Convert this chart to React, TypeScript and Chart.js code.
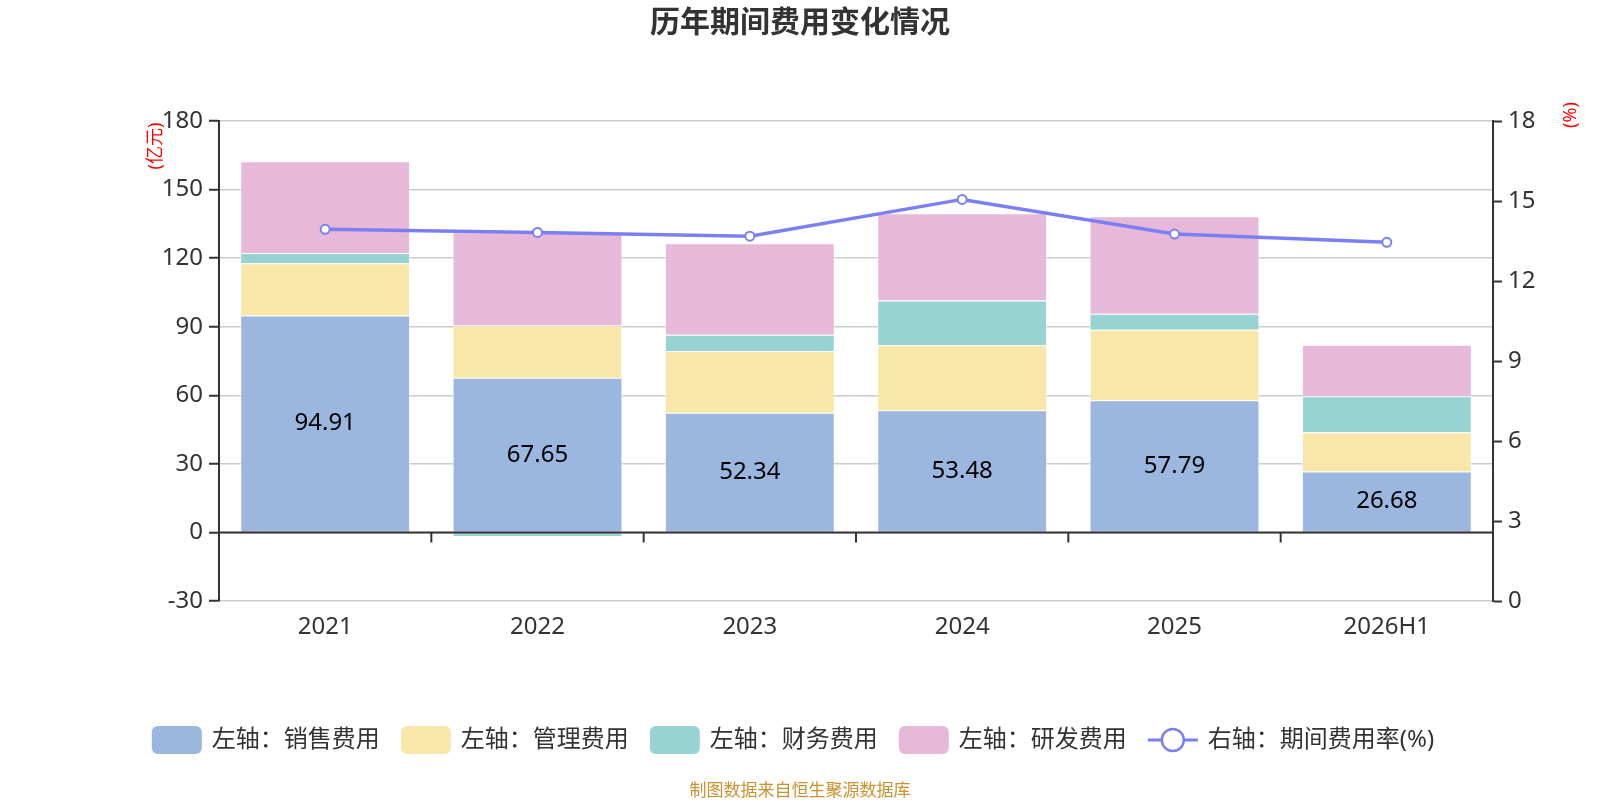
import React, { useEffect, useRef } from "react";
import { Chart, registerables } from "chart.js";

Chart.register(...registerables);

const years = ["2021", "2022", "2023", "2024", "2025", "2026H1"];
const salesExp = [94.91, 67.65, 52.34, 53.48, 57.79, 26.68];
const adminExp = [22.9, 22.9, 27.0, 28.5, 30.9, 17.2];
const financeExp = [4.4, -2.0, 7.1, 19.5, 7.0, 15.7];
const rdExp = [40.2, 40.8, 40.1, 38.2, 42.6, 22.5];
const expenseRate = [13.94, 13.82, 13.68, 15.06, 13.76, 13.45];
const leftTicks = [-30, 0, 30, 60, 90, 120, 150, 180];
const rightTicks = [0, 3, 6, 9, 12, 15, 18];
const seriesNames = ["左轴：销售费用", "左轴：管理费用", "左轴：财务费用", "左轴：研发费用", "右轴：期间费用率(%)"];

const FONT = '"Noto Sans", "Noto Sans CJK SC", sans-serif';
const COLORS = ["#9BB7E0", "#F8E7A9", "#97D3D3", "#E7B8D8", "#7B7FF5"];

const decorPlugin = {
	id: "decor",
	afterDatasetsDraw(chart: any) {
		const { ctx, chartArea, scales } = chart;
		const y0 = scales.y.getPixelForValue(0);
		ctx.save();
		// x axis line at zero with category boundary ticks
		ctx.strokeStyle = "#333";
		ctx.lineWidth = 2;
		ctx.beginPath();
		ctx.moveTo(chartArea.left, y0);
		ctx.lineTo(chartArea.right, y0);
		for (let i = 1; i < years.length; i++) {
			const bx = (scales.x.getPixelForValue(i - 1) + scales.x.getPixelForValue(i)) / 2;
			ctx.moveTo(bx, y0);
			ctx.lineTo(bx, y0 + 10);
		}
		ctx.stroke();

		// values inside the sales bars
		const meta = chart.getDatasetMeta(0);
		ctx.fillStyle = "#000";
		ctx.font = `24px ${FONT}`;
		ctx.textAlign = "center";
		ctx.textBaseline = "middle";
		meta.data.forEach((bar: any, i: number) => {
			ctx.fillText(salesExp[i].toFixed(2), bar.x, (bar.y + bar.base) / 2);
		});
		ctx.restore();
	},
	afterDraw(chart: any) {
		const { ctx } = chart;
		ctx.save();
		// title
		ctx.fillStyle = "#333";
		ctx.font = `bold 30px ${FONT}`;
		ctx.textAlign = "center";
		ctx.textBaseline = "middle";
		ctx.fillText("历年期间费用变化情况", 800, 23);

		// axis units
		ctx.fillStyle = "#ff0000";
		ctx.font = `18px ${FONT}`;
		ctx.save();
		ctx.translate(156, 146);
		ctx.rotate(-Math.PI / 2);
		ctx.fillText("(亿元)", 0, 0);
		ctx.restore();
		ctx.save();
		ctx.translate(1571, 115);
		ctx.rotate(-Math.PI / 2);
		ctx.fillText("(%)", 0, 0);
		ctx.restore();

		// legend
		ctx.font = `24px ${FONT}`;
		const sw = 50, sh = 28, gapIn = 10, gapOut = 21;
		const widths = seriesNames.map((n) => ctx.measureText(n).width);
		const total = widths.reduce((a, w) => a + sw + gapIn + w, 0) + gapOut * (seriesNames.length - 1);
		let x = 793 - total / 2;
		const cy = 740;
		seriesNames.forEach((name, i) => {
			if (i < 4) {
				ctx.fillStyle = COLORS[i];
				ctx.beginPath();
				(ctx as any).roundRect(x, cy - sh / 2, sw, sh, 6);
				ctx.fill();
			} else {
				ctx.strokeStyle = COLORS[4];
				ctx.lineWidth = 3;
				ctx.beginPath();
				ctx.moveTo(x, cy);
				ctx.lineTo(x + sw, cy);
				ctx.stroke();
				ctx.beginPath();
				ctx.arc(x + sw / 2, cy, 11, 0, Math.PI * 2);
				ctx.fillStyle = "#fff";
				ctx.fill();
				ctx.lineWidth = 2.5;
				ctx.stroke();
			}
			ctx.fillStyle = "#333";
			ctx.textAlign = "left";
			ctx.textBaseline = "middle";
			ctx.fillText(name, x + sw + gapIn, cy);
			x += sw + gapIn + widths[i] + gapOut;
		});

		// source note
		ctx.fillStyle = "#C9922E";
		ctx.font = `17px ${FONT}`;
		ctx.textAlign = "center";
		ctx.fillText("制图数据来自恒生聚源数据库", 800, 791);
		ctx.restore();
	},
};

const barSet = (label: string, data: number[], color: string) => ({
	type: "bar" as const,
	label,
	data,
	backgroundColor: color,
	borderColor: "rgba(255,255,255,0.6)",
	borderWidth: 1,
	yAxisID: "y",
	order: 1,
	barPercentage: 0.8,
	categoryPercentage: 1,
});

const tickFont = { size: 24, family: FONT };

const App: React.FC = () => {
	const chartRef = useRef<HTMLCanvasElement>(null);
	const chartInstance = useRef<Chart | null>(null);

	useEffect(() => {
		document.body.style.margin = "0";
		if (!chartRef.current) return;
		if (chartInstance.current) chartInstance.current.destroy();
		const ctx = chartRef.current.getContext("2d");
		if (!ctx) return;

		chartInstance.current = new Chart(ctx, {
			data: {
				labels: years,
				datasets: [
					barSet(seriesNames[0], salesExp, COLORS[0]),
					barSet(seriesNames[1], adminExp, COLORS[1]),
					barSet(seriesNames[2], financeExp, COLORS[2]),
					barSet(seriesNames[3], rdExp, COLORS[3]),
					{
						type: "line",
						label: seriesNames[4],
						data: expenseRate,
						borderColor: COLORS[4],
						backgroundColor: "#fff",
						borderWidth: 3.5,
						pointRadius: 4.5,
						pointBorderWidth: 2,
						pointBackgroundColor: "#fff",
						pointBorderColor: COLORS[4],
						yAxisID: "y1",
						order: 0,
						tension: 0,
					},
				],
			} as any,
			options: {
				responsive: true,
				maintainAspectRatio: false,
				animation: false,
				layout: { padding: { top: 121, left: 0, right: 0, bottom: 0 } },
				plugins: {
					legend: { display: false },
					title: { display: false },
					tooltip: { enabled: false },
				},
				scales: {
					x: {
						stacked: true,
						grid: { display: false, drawTicks: false },
						border: { display: false },
						ticks: { color: "#333", font: tickFont, padding: 12 },
						afterFit: (s: any) => { s.height = 199; },
					},
					y: {
						stacked: true,
						position: "left",
						min: -30,
						max: 180,
						afterBuildTicks: (s: any) => { s.ticks = leftTicks.map((v) => ({ value: v })); },
						grid: { color: "#cccccc", lineWidth: 1.5, tickColor: "#333", tickLength: 10, tickWidth: 2 },
						border: { color: "#333", width: 2 },
						ticks: { color: "#333", font: tickFont, padding: 6 },
						afterFit: (s: any) => { s.width = 219; },
					},
					y1: {
						position: "right",
						min: 0,
						max: 18,
						afterBuildTicks: (s: any) => { s.ticks = rightTicks.map((v) => ({ value: v })); },
						grid: { drawOnChartArea: false, tickColor: "#333", tickLength: 9, tickWidth: 2 },
						border: { color: "#333", width: 2 },
						ticks: { color: "#333", font: tickFont, padding: 6 },
						afterFit: (s: any) => { s.width = 107; },
					},
				},
			} as any,
			plugins: [decorPlugin],
		});

		return () => {
			if (chartInstance.current) {
				chartInstance.current.destroy();
				chartInstance.current = null;
			}
		};
	}, []);

	return (
		<div style={{ position: "relative", width: 1600, height: 800, background: "#fff" }}>
			<canvas ref={chartRef}></canvas>
		</div>
	);
};

export default App;
